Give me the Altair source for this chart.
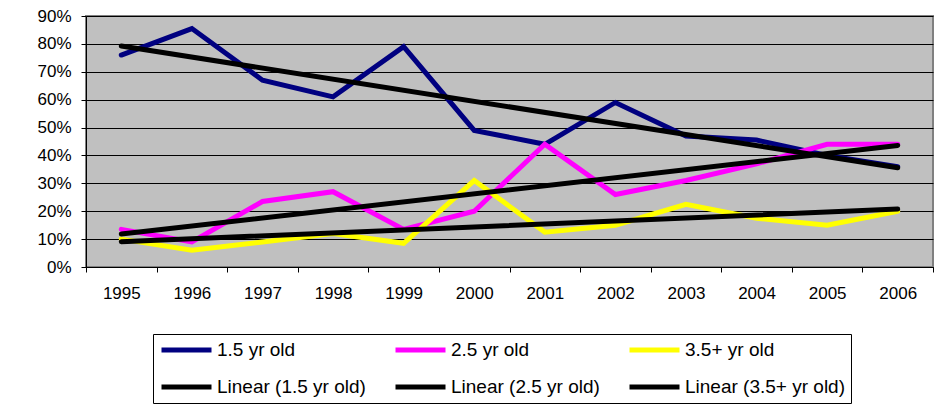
import altair as alt
import pandas as pd

years = list(range(1995, 2007))
names = ["1.5 yr old", "2.5 yr old", "3.5+ yr old"]
v15 = [0.76, 0.855, 0.67, 0.61, 0.79, 0.49, 0.44, 0.59, 0.47, 0.455, 0.40, 0.36]
v25 = [0.135, 0.09, 0.235, 0.27, 0.135, 0.20, 0.44, 0.26, 0.31, 0.37, 0.44, 0.44]
v35 = [0.10, 0.06, 0.09, 0.12, 0.085, 0.31, 0.125, 0.15, 0.225, 0.175, 0.15, 0.20]
y_ticks = [i / 10 for i in range(10)]

rows = []
for n, vals in zip(names, [v15, v25, v35]):
    for yr, v in zip(years, vals):
        rows.append({"year": yr, "name": n, "value": v})
df = pd.DataFrame(rows)

legend_names = names + ["Linear (" + n + ")" for n in names]
colors = ["#000080", "#FF00FF", "#FFFF00", "#000000", "#000000", "#000000"]
widths = [5, 5, 5, 3, 3, 3]

FONT = "Liberation Sans"

x_enc = alt.X(
    "year:Q",
    scale=alt.Scale(domain=[1994.5, 2006.5], nice=False, zero=False),
    axis=alt.Axis(
        values=[1994.5 + i for i in range(13)],
        labelExpr="datum.value > 2006 ? '' : format(datum.value + 0.5, 'd')",
        labelOffset=35.3,
        labelFlush=False,
        labelOverlap=False,
        labelBound=False,
        grid=False,
        title=None,
        tickSize=5,
        labelPadding=13,
    ),
)
y_enc = alt.Y(
    "value:Q",
    scale=alt.Scale(domain=[0, 0.9], nice=False),
    axis=alt.Axis(
        values=y_ticks,
        format=".0%",
        grid=True,
        title=None,
        tickSize=5,
        labelPadding=10,
    ),
)


def make_legend():
    return alt.Legend(
        title=None,
        orient="none",
        legendX=67,
        legendY=318,
        columns=3,
        direction="horizontal",
        symbolType="stroke",
        symbolSize=2500,
        clipHeight=20,
        labelFontSize=19,
        labelFont=FONT,
        labelColor="#000000",
        labelOffset=3,
        strokeColor="#000000",
        fillColor="#FFFFFF",
        padding=6,
        rowPadding=17,
        columnPadding=27,
        labelLimit=400,
    )


color_enc = alt.Color(
    "name:N",
    scale=alt.Scale(domain=legend_names, range=colors),
    legend=make_legend(),
)
sw_enc = alt.StrokeWidth(
    "name:N",
    scale=alt.Scale(domain=legend_names, range=widths),
    legend=make_legend(),
)

base = alt.Chart(df)
data_lines = base.mark_line(strokeCap="round", strokeJoin="miter").encode(
    x=x_enc, y=y_enc, color=color_enc, strokeWidth=sw_enc, detail="name:N"
)
trend = (
    base.transform_regression("year", "value", groupby=["name"])
    .transform_calculate(name="'Linear (' + datum.name + ')'")
    .mark_line(strokeCap="round")
    .encode(x=x_enc, y=y_enc, color=color_enc, strokeWidth=sw_enc, detail="name:N")
)

chart = (
    alt.layer(data_lines, trend)
    .properties(
        width=847,
        height=251,
        autosize=alt.AutoSizeParams(type="none"),
        padding={"left": 78, "top": 8, "right": 7, "bottom": 141},
        background="#FFFFFF",
    )
    .configure_view(fill="#C0C0C0", stroke="#808080", strokeWidth=2)
    .configure_axis(
        domainColor="#000000",
        domainWidth=1,
        tickColor="#000000",
        gridColor="#000000",
        gridWidth=1,
        labelFont=FONT,
        labelFontSize=17,
        labelColor="#000000",
    )
)

chart.save("out.html", embed_options={"renderer": "svg", "actions": False})
